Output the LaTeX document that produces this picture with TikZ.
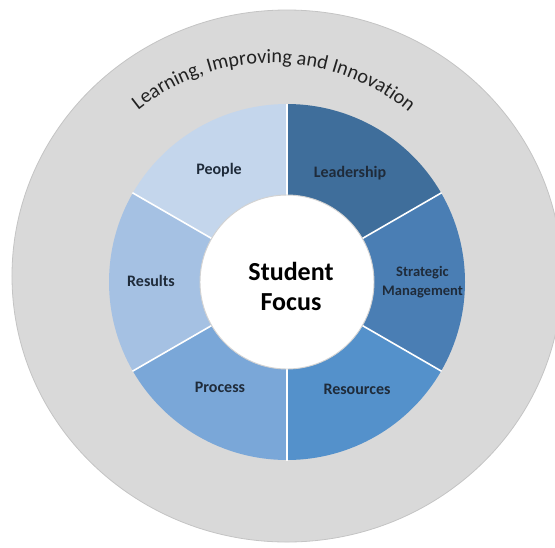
\documentclass[tikz,border=0pt]{standalone}
\usepackage{fontspec}
\setmainfont{Carlito}
\usetikzlibrary{decorations.text}
\definecolor{bggray}{HTML}{D9D9D9}
\definecolor{edgegray}{HTML}{C4C4C4}
\definecolor{colLead}{HTML}{3F6E9B}
\definecolor{colStrat}{HTML}{4A7EB4}
\definecolor{colRes}{HTML}{5491CB}
\definecolor{colProc}{HTML}{7AA7D8}
\definecolor{colResu}{HTML}{A5C1E3}
\definecolor{colPeop}{HTML}{C4D6EC}
\definecolor{labtxt}{HTML}{1F2B3A}
\definecolor{arctxt}{HTML}{222222}
\newcommand\lipfont{\fontsize{15.2pt}{17pt}\selectfont\color{arctxt}}
\tikzset{
  seglabel/.style={font=\bfseries\fontsize{12pt}{14pt}\selectfont, text=labtxt, inner sep=0pt, align=center},
  smalllabel/.style={font=\bfseries\fontsize{10.9pt}{14.25pt}\selectfont, text=labtxt, inner sep=0pt, align=center},
  centerlabel/.style={font=\bfseries\fontsize{19.5pt}{22.5pt}\selectfont, text=black, inner sep=0pt, align=center},
  divider/.style={draw=white, line width=1.2pt},
}
\begin{document}
\begin{tikzpicture}[x=0.75pt,y=0.75pt]
\useasboundingbox[fill=white] (-287,-265) rectangle (268,282);
\begin{scope}
  \clip (-287,-265) rectangle (268,282);
  \fill[bggray, draw=edgegray, line width=0.6pt] (0,6) ellipse[x radius=275, y radius=266];
\end{scope}
% segments
\foreach \a/\b/\c in {30/90/colLead, -30/30/colStrat, -90/-30/colRes, -150/-90/colProc, 150/210/colResu, 90/150/colPeop}{
  \fill[\c] (\a:87) -- (\a:178) arc[start angle=\a, end angle=\b, radius=178] -- (\b:87) arc[start angle=\b, end angle=\a, radius=87] -- cycle;
}
\foreach \a in {90,30,-30,-90,-150,150}{
  \draw[divider] (\a:86) -- (\a:178.5);
}
\fill[white, draw=gray!35, line width=0.7pt] (0,0) circle[radius=87];
% labels
\node[centerlabel] (focus) at (4,-4) {Student\\Focus};
\node[seglabel] (people) at (-68,112) {People};
\node[seglabel] (leadership) at (63,109) {Leadership};
\node[smalllabel] (strategic) at (135.5,0) {Strategic\\Management};
\node[seglabel] (results) at (-136,1) {Results};
\node[seglabel] (process) at (-67,-105) {Process};
\node[seglabel] (resources) at (70,-107) {Resources};
% curved text
\path[decorate, decoration={text along path, text={|\lipfont|Learning, Improving and Innovation}, text align=center}]
  (-149.7,171.3) arc[start angle=129, end angle=50, radius=214];
\end{tikzpicture}
\end{document}
